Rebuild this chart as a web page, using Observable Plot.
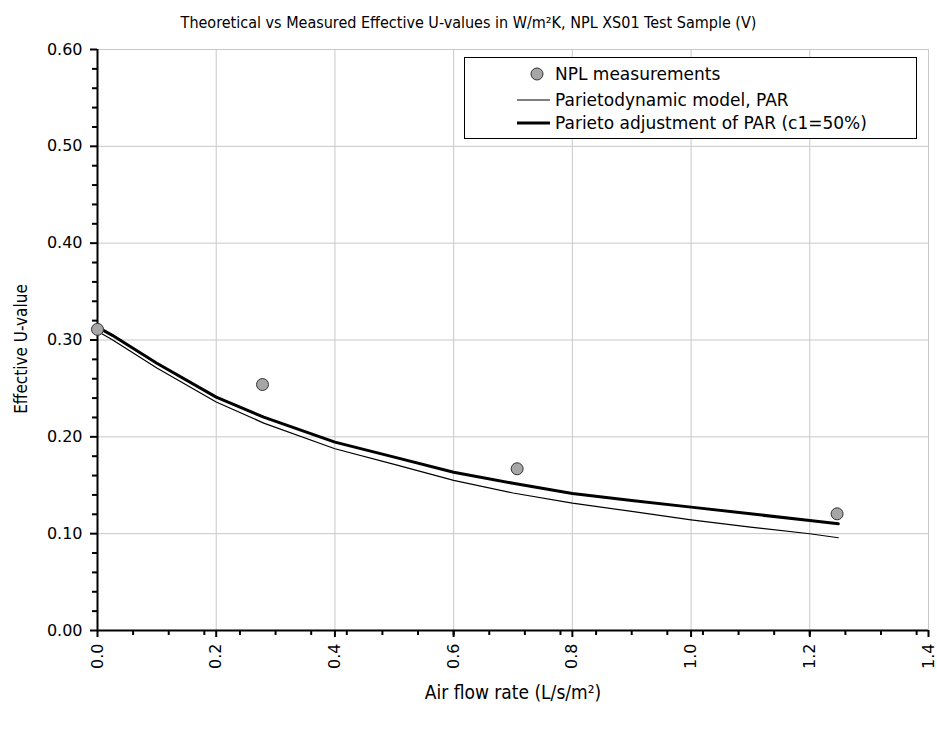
<!DOCTYPE html>
<html>
<head>
<meta charset="utf-8">
<script src="https://cdn.jsdelivr.net/npm/d3@7"></script>
<script src="https://cdn.jsdelivr.net/npm/@observablehq/plot@0.6"></script>
<style>
  html, body { margin: 0; padding: 0; background: white; }
  #title { width: 937px; height: 40px; line-height: 46px; text-align: center;
    font-family: "Liberation Sans Narrow", "DejaVu Sans Condensed", sans-serif; font-size: 16px; color: #000; }
  #chart svg { display: block; }
</style>
</head>
<body>
<div id="title"></div>
<div id="chart"></div>
<script>
const titleText = "Theoretical vs Measured Effective U-values in W/m²K, NPL XS01 Test Sample (V)";
const xLabel = "Air flow rate (L/s/m²)";
const yLabel = "Effective U-value";

// NPL measurements
const measX = [0, 0.278, 0.707, 1.246];
const measY = [0.311, 0.254, 0.167, 0.1205];

// model curves
const modelX = [0, 0.025, 0.1, 0.2, 0.28, 0.4, 0.5, 0.6, 0.7, 0.8, 0.9, 1.0, 1.1, 1.2, 1.248];
const parY   = [0.309, 0.3003, 0.271, 0.236, 0.2142, 0.1877, 0.1715, 0.155, 0.142, 0.1315, 0.123, 0.1143, 0.1067, 0.0999, 0.0958];
const adjY   = [0.3133, 0.3048, 0.276, 0.241, 0.2204, 0.1945, 0.179, 0.1635, 0.152, 0.1415, 0.1343, 0.1274, 0.1205, 0.1136, 0.1102];

const legendLabels = ["NPL measurements", "Parietodynamic model, PAR", "Parieto adjustment of PAR (c1=50%)"];

const xTicks = [0, 0.2, 0.4, 0.6, 0.8, 1.0, 1.2, 1.4];
const xMinor = [0.06, 0.12, 0.18, 0.24, 0.30, 0.36, 0.42, 0.48, 0.54, 0.60, 0.66, 0.72, 0.78, 0.84, 0.90, 0.96, 1.02, 1.08, 1.14, 1.20, 1.26, 1.32, 1.38];
const yTicks = [0, 0.1, 0.2, 0.3, 0.4, 0.5, 0.6];
const yMinor = [0.02, 0.04, 0.06, 0.08, 0.12, 0.14, 0.16, 0.18, 0.22, 0.24, 0.26, 0.28, 0.32, 0.34, 0.36, 0.38, 0.42, 0.44, 0.46, 0.48, 0.52, 0.54, 0.56, 0.58];

document.getElementById("title").textContent = titleText;

const meas = measX.map((x, i) => ({x, y: measY[i]}));
const par = modelX.map((x, i) => ({x, y: parY[i]}));
const adj = modelX.map((x, i) => ({x, y: adjY[i]}));

const labelFont = "'Liberation Sans Narrow', 'DejaVu Sans Condensed', sans-serif";

const svg = Plot.plot({
  width: 937,
  height: 692,
  marginLeft: 97,
  marginRight: 9,
  marginTop: 9,
  marginBottom: 102,
  style: {fontFamily: "DejaVu Sans", fontSize: "16px", background: "white", color: "black"},
  x: {domain: [0, 1.4]},
  y: {domain: [0, 0.6]},
  marks: [
    Plot.gridX(xTicks, {stroke: "#c8c8c8", strokeOpacity: 1}),
    Plot.gridY(yTicks, {stroke: "#c8c8c8", strokeOpacity: 1}),
    Plot.axisX({ticks: xMinor, tickSize: 5, tickFormat: () => "", strokeWidth: 2, label: null}),
    Plot.axisX({ticks: xTicks, tickSize: 7, tickPadding: 6, tickRotate: -90, tickFormat: d3.format(".1f"), strokeWidth: 2, fontSize: 16, label: null}),
    Plot.axisY({ticks: yMinor, tickSize: 5, tickFormat: () => "", strokeWidth: 2, label: null}),
    Plot.axisY({ticks: yTicks, tickSize: 7, tickPadding: 8, tickFormat: d3.format(".2f"), strokeWidth: 2, fontSize: 16, label: null}),
    Plot.ruleX([0], {stroke: "black", strokeWidth: 2}),
    Plot.ruleY([0], {stroke: "black", strokeWidth: 2}),
    Plot.line(par, {x: "x", y: "y", stroke: "black", strokeWidth: 1.2}),
    Plot.line(adj, {x: "x", y: "y", stroke: "black", strokeWidth: 3}),
    Plot.dot(meas, {x: "x", y: "y", r: 6, fill: "#a6a6a6", stroke: "#333", strokeWidth: 1}),
    Plot.text([xLabel], {text: d => d, frameAnchor: "bottom", dy: 68, fontFamily: labelFont, fontSize: 19}),
    Plot.text([yLabel], {text: d => d, frameAnchor: "left", textAnchor: "middle", dx: -76, dy: 9, rotate: -90, fontFamily: labelFont, fontSize: 17})
  ]
});

// legend box
const lg = d3.select(svg).append("g").attr("font-family", "DejaVu Sans").attr("font-size", 17).attr("text-anchor", "start");
lg.append("rect").attr("x", 464.5).attr("y", 17.5).attr("width", 452).attr("height", 81)
  .attr("fill", "white").attr("stroke", "black").attr("stroke-width", 1);
const rowsY = [34, 60, 83];
lg.append("circle").attr("cx", 537).attr("cy", rowsY[0]).attr("r", 6)
  .attr("fill", "#a6a6a6").attr("stroke", "#333");
lg.append("line").attr("x1", 517).attr("x2", 550).attr("y1", rowsY[1]).attr("y2", rowsY[1])
  .attr("stroke", "black").attr("stroke-width", 1.2);
lg.append("line").attr("x1", 517).attr("x2", 550).attr("y1", rowsY[2]).attr("y2", rowsY[2])
  .attr("stroke", "black").attr("stroke-width", 3);
legendLabels.forEach((t, i) => {
  lg.append("text").attr("x", 555).attr("y", rowsY[i]).attr("dy", "0.35em").attr("text-anchor", "start").text(t);
});

document.getElementById("chart").appendChild(svg);
</script>
</body>
</html>
